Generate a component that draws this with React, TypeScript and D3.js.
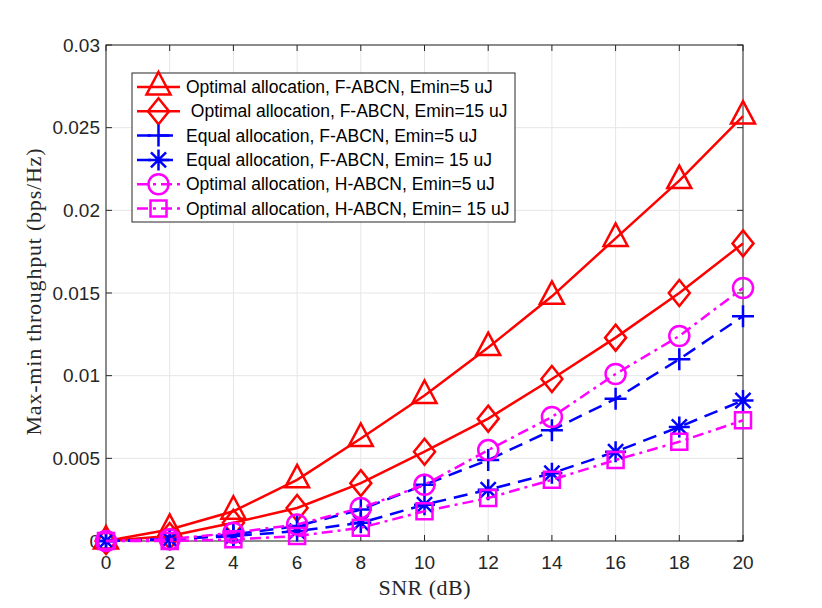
import { scaleLinear, line as d3_line } from "d3";

const snr = [0, 2, 4, 6, 8, 10, 12, 14, 16, 18, 20];
const optF5 = [0, 0.0007, 0.0018, 0.0037, 0.0062, 0.0088, 0.0117, 0.0148, 0.0183, 0.0218, 0.0257];
const optF15 = [0, 0.0003, 0.0011, 0.002, 0.0035, 0.0054, 0.0074, 0.0098, 0.0123, 0.015, 0.018];
const eqF5 = [0, 0.0001, 0.0004, 0.0009, 0.0019, 0.0034, 0.0049, 0.0067, 0.0086, 0.011, 0.0136];
const eqF15 = [0, 0.0001, 0.0003, 0.0006, 0.0011, 0.0022, 0.0031, 0.0041, 0.0054, 0.0069, 0.0085];
const optH5 = [0, 0.0001, 0.0005, 0.001, 0.002, 0.0034, 0.0055, 0.0075, 0.0101, 0.0124, 0.0153];
const optH15 = [0, 0, 0.0001, 0.0003, 0.0008, 0.0018, 0.0026, 0.0037, 0.0049, 0.006, 0.0073];

const xTicks = [0, 2, 4, 6, 8, 10, 12, 14, 16, 18, 20];
const yTicks = [0, 0.005, 0.01, 0.015, 0.02, 0.025, 0.03];
const yTickLabels = ["0", "0.005", "0.01", "0.015", "0.02", "0.025", "0.03"];

const labels = [
  "Optimal allocation, F-ABCN, Emin=5 uJ",
  " Optimal allocation, F-ABCN, Emin=15 uJ",
  "Equal allocation, F-ABCN, Emin=5 uJ",
  "Equal allocation, F-ABCN, Emin= 15 uJ",
  "Optimal allocation, H-ABCN, Emin=5 uJ",
  "Optimal allocation, H-ABCN, Emin= 15 uJ",
];

type Marker = "tri" | "diamond" | "plus" | "star" | "circle" | "square";

const series: { values: number[]; color: string; dash?: string; marker: Marker }[] = [
  { values: optF5, color: "#ff0000", marker: "tri" },
  { values: optF15, color: "#ff0000", marker: "diamond" },
  { values: eqF5, color: "#0000ff", dash: "14 8", marker: "plus" },
  { values: eqF15, color: "#0000ff", dash: "14 8", marker: "star" },
  { values: optH5, color: "#ff00ff", dash: "11 5 3 5", marker: "circle" },
  { values: optH15, color: "#ff00ff", dash: "11 5 3 5", marker: "square" },
];

const left = 106;
const right = 743;
const top = 45;
const bottom = 541;

function markerPath(m: Marker, cx: number, cy: number) {
  switch (m) {
    case "tri":
      return `M${cx},${cy - 15} L${cx + 12},${cy + 7.5} L${cx - 12},${cy + 7.5} Z`;
    case "diamond":
      return `M${cx},${cy - 13} L${cx + 10.5},${cy} L${cx},${cy + 13} L${cx - 10.5},${cy} Z`;
    case "plus":
      return `M${cx - 11},${cy} H${cx + 11} M${cx},${cy - 11} V${cy + 11}`;
    case "star": {
      const r = 10.5;
      const d = r * 0.72;
      return `M${cx - r},${cy} H${cx + r} M${cx},${cy - r} V${cy + r} M${cx - d},${cy - d} L${cx + d},${cy + d} M${cx - d},${cy + d} L${cx + d},${cy - d}`;
    }
    case "square":
      return `M${cx - 8},${cy - 8} h16 v16 h-16 Z`;
    default:
      return "";
  }
}

function MarkerShape({ m, cx, cy, color }: { m: Marker; cx: number; cy: number; color: string }) {
  if (m === "circle") {
    return <circle cx={cx} cy={cy} r={10} fill="none" stroke={color} strokeWidth={2.5} />;
  }
  return <path d={markerPath(m, cx, cy)} fill="none" stroke={color} strokeWidth={2.5} strokeLinejoin="miter" />;
}

export default function App() {
  const x = scaleLinear().domain([0, 20]).range([left, right]);
  const y = scaleLinear().domain([0, 0.03]).range([bottom, top]);

  const line = d3_line<number>()
    .x((_, i) => x(snr[i]))
    .y((d) => y(d));

  const legX = 132;
  const legY = 73;
  const legW = 383;
  const legH = 149;
  const rowY = (i: number) => legY + 14 + i * 24.3;

  return (
    <div style={{ position: "fixed", top: 0, left: 0 }}>
      <svg width={822} height={608} style={{ display: "block", background: "#fff" }}>
        {/* grid */}
        {xTicks.map((t) => (
          <line key={"gx" + t} x1={x(t)} x2={x(t)} y1={top} y2={bottom} stroke="#e6e6e6" strokeWidth={1} />
        ))}
        {yTicks.map((t) => (
          <line key={"gy" + t} x1={left} x2={right} y1={y(t)} y2={y(t)} stroke="#e6e6e6" strokeWidth={1} />
        ))}

        {/* axes box and ticks */}
        <rect x={left} y={top} width={right - left} height={bottom - top} fill="none" stroke="#262626" strokeWidth={1} />
        {xTicks.map((t) => (
          <g key={"tx" + t} stroke="#262626" strokeWidth={1}>
            <line x1={x(t)} x2={x(t)} y1={bottom} y2={bottom - 6} />
            <line x1={x(t)} x2={x(t)} y1={top} y2={top + 6} />
          </g>
        ))}
        {yTicks.map((t) => (
          <g key={"ty" + t} stroke="#262626" strokeWidth={1}>
            <line x1={left} x2={left + 6} y1={y(t)} y2={y(t)} />
            <line x1={right} x2={right - 6} y1={y(t)} y2={y(t)} />
          </g>
        ))}

        {/* tick labels */}
        <g fontFamily="Liberation Sans, Arial, sans-serif" fontSize={19} fill="#262626">
          {xTicks.map((t) => (
            <text key={"lx" + t} x={x(t)} y={569} textAnchor="middle">
              {t}
            </text>
          ))}
          {yTicks.map((t, i) => (
            <text key={"ly" + t} x={100} y={y(t)} textAnchor="end" dominantBaseline="central">
              {yTickLabels[i]}
            </text>
          ))}
        </g>

        {/* axis titles */}
        <text x={424.5} y={595} textAnchor="middle" fontFamily="Liberation Serif, serif" fontSize={22} fill="#262626" textLength={92}>
          SNR (dB)
        </text>
        <text
          transform="translate(33,292) rotate(-90)"
          textAnchor="middle"
          dominantBaseline="central"
          fontFamily="Liberation Serif, serif"
          fontSize={22}
          fill="#262626"
          textLength={287}
        >
          Max-min throughput (bps/Hz)
        </text>

        {/* series */}
        {series.map((s, si) => (
          <g key={"s" + si}>
            <path d={line(s.values) || ""} fill="none" stroke={s.color} strokeWidth={2.5} strokeDasharray={s.dash} />
            {s.values.map((v, i) => (
              <MarkerShape key={i} m={s.marker} cx={x(snr[i])} cy={y(v)} color={s.color} />
            ))}
          </g>
        ))}

        {/* legend */}
        <rect x={legX} y={legY} width={legW} height={legH} fill="#fff" stroke="#262626" strokeWidth={1} />
        {series.map((s, i) => (
          <g key={"leg" + i}>
            <line x1={137} x2={180} y1={rowY(i)} y2={rowY(i)} stroke={s.color} strokeWidth={2.5} strokeDasharray={s.dash} />
            <MarkerShape m={s.marker} cx={158.5} cy={rowY(i)} color={s.color} />
            <text
              x={186}
              y={rowY(i)}
              dominantBaseline="central"
              fontFamily="Liberation Sans, Arial, sans-serif"
              fontSize={17.5}
              fill="#000"
              style={{ whiteSpace: "pre" }}
            >
              {labels[i]}
            </text>
          </g>
        ))}
      </svg>
    </div>
  );
}
